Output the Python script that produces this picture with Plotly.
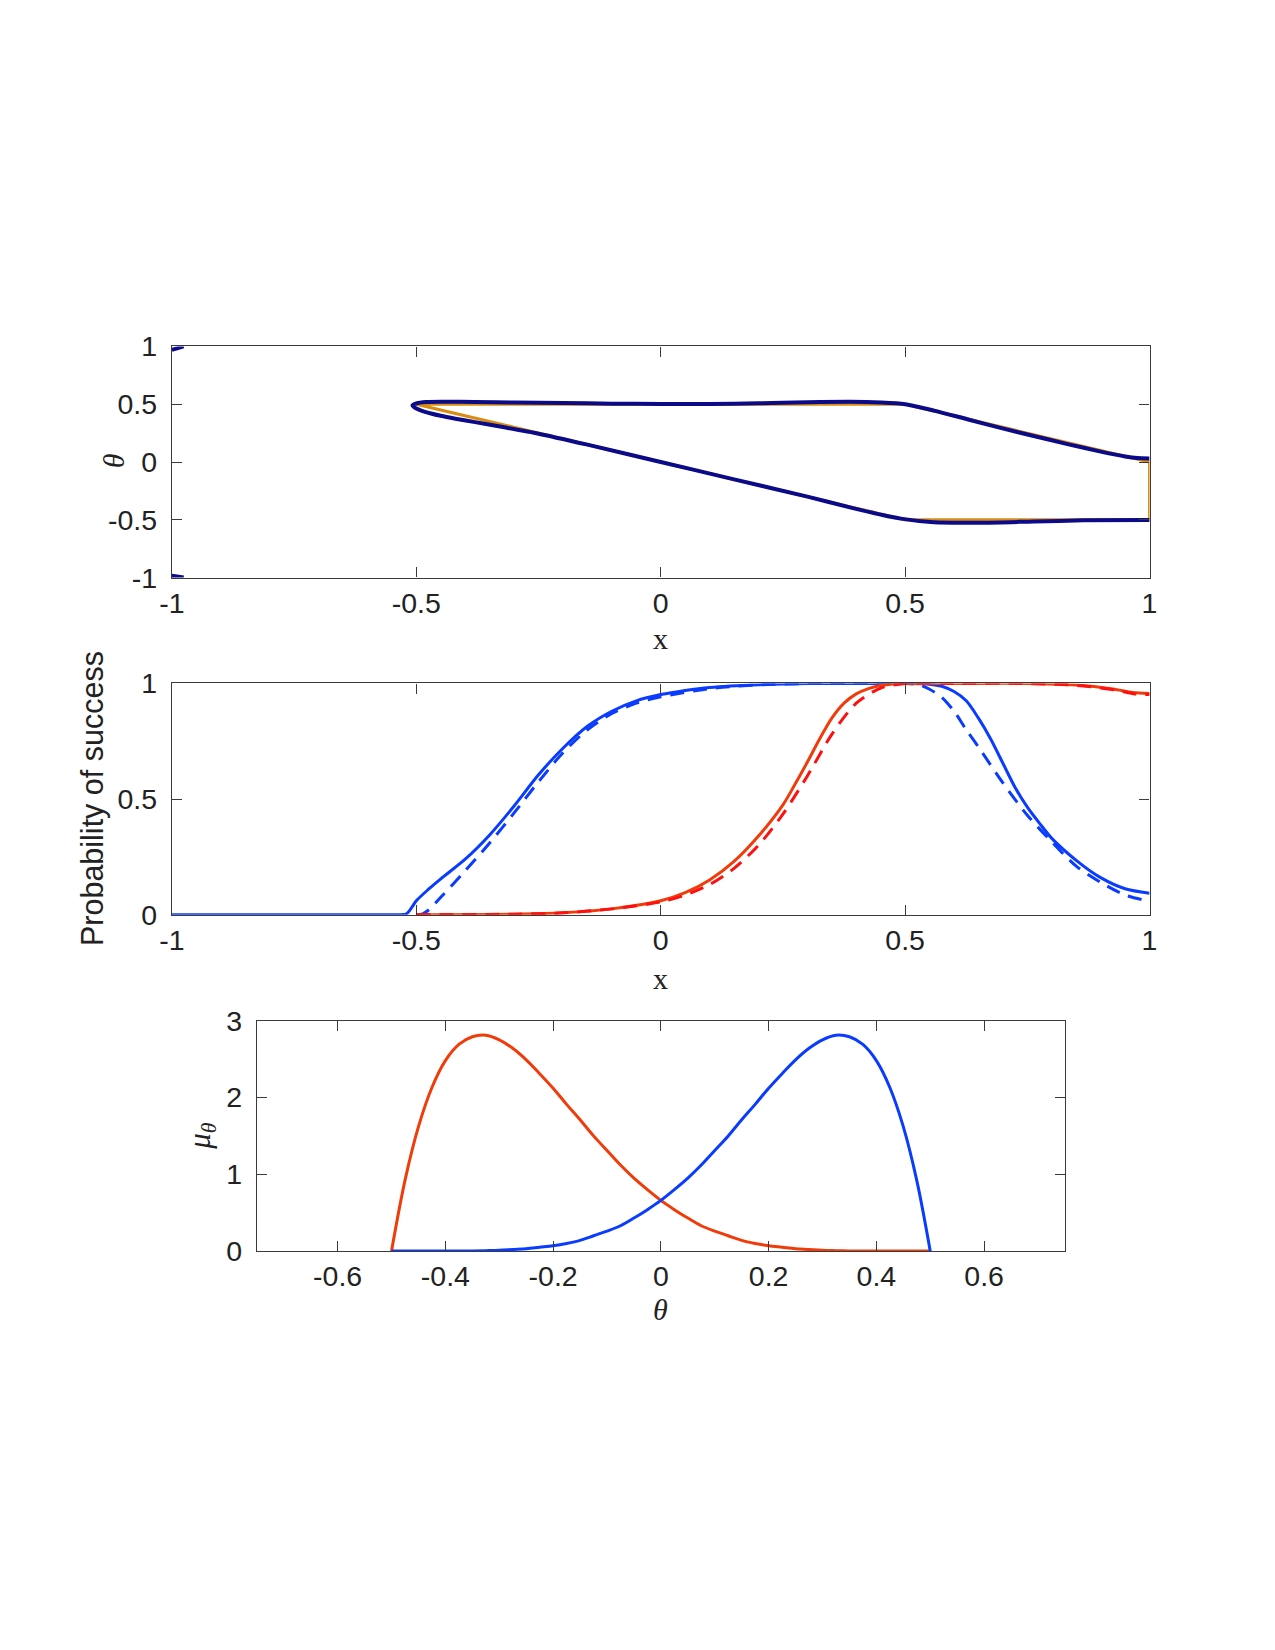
import plotly.graph_objects as go

# ---------------- data ----------------
# Top panel: reference (orange) polygon and computed curve (navy)
ref_x = [-0.5, 0.5, 1.0, 1.0, 0.5, -0.5]
ref_theta = [0.5, 0.5, 0.0, -0.5, -0.5, 0.5]

curve_x = [1.0, 0.975, 0.95, 0.90, 0.832, 0.763, 0.695, 0.627, 0.559, 0.5, 0.45, 0.389, 0.3, 0.2,
           0.1, 0.0, -0.1, -0.2, -0.3, -0.38, -0.44, -0.48, -0.5, -0.508, -0.504, -0.49, -0.47,
           -0.45, -0.42, -0.38, -0.32, -0.25, -0.15, 0.0, 0.15, 0.3, 0.389, 0.45, 0.491, 0.559,
           0.661, 0.763, 0.865, 1.0]
curve_theta = [0.03, 0.034, 0.048, 0.09, 0.155, 0.225, 0.295, 0.37, 0.445, 0.5, 0.515, 0.522,
               0.518, 0.508, 0.502, 0.502, 0.505, 0.51, 0.515, 0.52, 0.522, 0.52, 0.508, 0.49,
               0.472, 0.445, 0.42, 0.40, 0.375, 0.345, 0.30, 0.245, 0.15, 0.0, -0.15, -0.30,
               -0.395, -0.455, -0.49, -0.522, -0.525, -0.515, -0.505, -0.502]

corner_x = [-1.0, -0.976, None, -1.0, -0.976]
corner_theta = [0.97, 1.0, None, -0.985, -1.0]

# Middle panel: probability of success
blue_solid_x = [-1.0, -0.6, -0.53, -0.52, -0.51, -0.5, -0.475, -0.45, -0.4, -0.35, -0.3, -0.25,
                -0.2, -0.15, -0.1, -0.05, 0.0, 0.05, 0.1, 0.2, 0.3, 0.4, 0.5, 0.55, 0.575, 0.6,
                0.625, 0.65, 0.675, 0.7, 0.725, 0.75, 0.775, 0.8, 0.85, 0.9, 0.95, 1.0]
blue_solid_p = [0, 0, 0, 0.004, 0.029, 0.06, 0.11, 0.155, 0.24, 0.345, 0.47, 0.605, 0.72, 0.815,
                0.88, 0.925, 0.952, 0.97, 0.983, 0.995, 1.0, 1.0, 1.0, 0.997, 0.988, 0.965, 0.925,
                0.85, 0.76, 0.655, 0.55, 0.465, 0.395, 0.33, 0.235, 0.16, 0.112, 0.093]

blue_dash_x = [-0.5, -0.487, -0.475, -0.45, -0.4, -0.35, -0.3, -0.25, -0.2, -0.15, -0.1, -0.05,
               0.0, 0.1, 0.2, 0.3, 0.4, 0.5, 0.53, 0.55, 0.575, 0.6, 0.625, 0.65, 0.7, 0.75, 0.8,
               0.85, 0.9, 0.95, 1.0]
blue_dash_p = [0, 0.003, 0.02, 0.075, 0.19, 0.31, 0.44, 0.575, 0.70, 0.80, 0.87, 0.915, 0.942,
               0.978, 0.994, 1.0, 1.0, 1.0, 0.993, 0.975, 0.94, 0.88, 0.80, 0.725, 0.57, 0.43,
               0.315, 0.21, 0.14, 0.085, 0.058]

red_solid_x = [-0.5, -0.3, -0.2, -0.1, 0.0, 0.05, 0.1, 0.15, 0.2, 0.25, 0.275, 0.3, 0.325, 0.35,
               0.375, 0.4, 0.425, 0.45, 0.475, 0.5, 0.6, 0.75, 0.85, 0.925, 0.966, 1.0]
red_solid_p = [0, 0.002, 0.008, 0.025, 0.06, 0.095, 0.15, 0.23, 0.34, 0.475, 0.565, 0.66, 0.76,
               0.85, 0.915, 0.955, 0.978, 0.991, 0.998, 1.0, 1.0, 1.0, 0.993, 0.976, 0.961, 0.957]

red_dash_x = [-0.5, -0.3, -0.2, -0.1, 0.0, 0.05, 0.1, 0.15, 0.2, 0.25, 0.3, 0.35, 0.4, 0.45, 0.5,
              0.6, 0.75, 0.85, 0.93, 0.97, 1.0]
red_dash_p = [0, 0.002, 0.008, 0.025, 0.055, 0.085, 0.13, 0.2, 0.3, 0.435, 0.6, 0.78, 0.915, 0.98,
              1.0, 1.0, 1.0, 0.992, 0.972, 0.955, 0.952]

# Bottom panel: densities mu_theta
theta_grid = [-0.5, -0.475, -0.45, -0.425, -0.4, -0.375, -0.35, -0.325, -0.3, -0.275, -0.25,
              -0.225, -0.2, -0.175, -0.15, -0.125, -0.1, -0.075, -0.05, -0.025, 0.0, 0.025, 0.05,
              0.075, 0.1, 0.125, 0.15, 0.175, 0.2, 0.225, 0.25, 0.275, 0.3, 0.325, 0.35, 0.375,
              0.4, 0.425, 0.45, 0.475, 0.5]
mu_red = [0, 0.92, 1.62, 2.13, 2.48, 2.69, 2.79, 2.81, 2.75, 2.64, 2.49, 2.31, 2.12, 1.91, 1.71,
          1.50, 1.31, 1.12, 0.95, 0.80, 0.66, 0.54, 0.43, 0.33, 0.26, 0.20, 0.14, 0.10, 0.07,
          0.05, 0.03, 0.02, 0.01, 0.006, 0.003, 0.001, 0, 0, 0, 0, 0]
mu_blue = [0, 0, 0, 0, 0, 0.001, 0.003, 0.006, 0.01, 0.02, 0.03, 0.05, 0.07, 0.10, 0.14, 0.20,
           0.26, 0.33, 0.43, 0.54, 0.66, 0.80, 0.95, 1.12, 1.31, 1.50, 1.71, 1.91, 2.12, 2.31,
           2.49, 2.64, 2.75, 2.81, 2.79, 2.69, 2.48, 2.13, 1.62, 0.92, 0]

# tick labels
ticks_pm1 = [-1, -0.5, 0, 0.5, 1]
ticks_pm1_txt = ["-1", "-0.5", "0", "0.5", "1"]
ticks_p01 = [0, 0.5, 1]
ticks_p01_txt = ["0", "0.5", "1"]
ticks_mu = [0, 1, 2, 3]
ticks_mu_txt = ["0", "1", "2", "3"]
ticks_th = [-0.6, -0.4, -0.2, 0, 0.2, 0.4, 0.6]
ticks_th_txt = ["-0.6", "-0.4", "-0.2", "0", "0.2", "0.4", "0.6"]

# ---------------- styles ----------------
NAVY = "#0b0b8a"
ORANGE = "#d98c10"
BLUE = "#0a3cff"
RED_S = "#f03c0a"
RED_D = "#ff1010"
AX = "#3a3a3a"
OFF = 8                      # default page margin around the plot div
W, H = 1275 - 2 * OFF, 1650 - 2 * OFF
# the photographed page comes out slightly scaled; compensate
S, CX, CY = 0.984, 3.8, 5.5
TICKFONT = dict(family="Liberation Sans, Arial, Helvetica", size=28.5, color="#222")


def px_x(r):
    i = (r - CX) / S
    return (i - OFF) / W


def px_y(r):
    i = (r - CY) / S
    return 1 - (i - OFF) / H


fig = go.Figure()

# top
fig.add_trace(go.Scatter(x=ref_x, y=ref_theta, mode="lines", line=dict(color=ORANGE, width=3),
                         xaxis="x", yaxis="y", showlegend=False))
fig.add_trace(go.Scatter(x=curve_x, y=curve_theta, mode="lines",
                         line=dict(color=NAVY, width=4, shape="spline", smoothing=0.7),
                         xaxis="x", yaxis="y", showlegend=False))
fig.add_trace(go.Scatter(x=corner_x, y=corner_theta, mode="lines", line=dict(color=NAVY, width=4),
                         xaxis="x", yaxis="y", showlegend=False))

# middle
SPL = dict(shape="spline", smoothing=0.8)
fig.add_trace(go.Scatter(x=blue_solid_x, y=blue_solid_p, mode="lines",
                         line=dict(color=BLUE, width=3, **SPL),
                         xaxis="x2", yaxis="y2", showlegend=False))
fig.add_trace(go.Scatter(x=blue_dash_x, y=blue_dash_p, mode="lines",
                         line=dict(color=BLUE, width=3, dash="14px,9px", **SPL),
                         xaxis="x2", yaxis="y2", showlegend=False))
fig.add_trace(go.Scatter(x=red_solid_x, y=red_solid_p, mode="lines",
                         line=dict(color=RED_S, width=3, **SPL),
                         xaxis="x2", yaxis="y2", showlegend=False))
fig.add_trace(go.Scatter(x=red_dash_x, y=red_dash_p, mode="lines",
                         line=dict(color=RED_D, width=3, dash="14px,9px", **SPL),
                         xaxis="x2", yaxis="y2", showlegend=False))

# bottom
fig.add_trace(go.Scatter(x=theta_grid, y=mu_red, mode="lines",
                         line=dict(color=RED_S, width=3, shape="spline", smoothing=1),
                         xaxis="x3", yaxis="y3", showlegend=False))
fig.add_trace(go.Scatter(x=theta_grid, y=mu_blue, mode="lines",
                         line=dict(color=BLUE, width=3, shape="spline", smoothing=1),
                         xaxis="x3", yaxis="y3", showlegend=False))


def axis(domain, rng, tv, tt, anchor, standoff):
    return dict(domain=domain, range=rng, tickvals=tv, ticktext=tt, anchor=anchor,
                showline=True, mirror="ticks", linecolor=AX, linewidth=1.2,
                ticks="inside", ticklen=10, tickcolor=AX, tickwidth=1.2,
                showgrid=False, zeroline=False, tickfont=TICKFONT,
                ticklabelstandoff=standoff, fixedrange=True)


xd_main = [px_x(170.7), px_x(1149)]
xd_bot = [px_x(255.7), px_x(1064.3)]

fig.update_layout(
    width=W, height=H, margin=dict(l=0, r=0, t=0, b=0),
    paper_bgcolor="white", plot_bgcolor="white",
    xaxis=axis(xd_main, [-1, 1], ticks_pm1, ticks_pm1_txt, "y", 0),
    yaxis=axis([px_y(577), px_y(345)], [-1, 1], ticks_pm1, ticks_pm1_txt, "x", 8),
    xaxis2=axis(xd_main, [-1, 1], ticks_pm1, ticks_pm1_txt, "y2", 0),
    yaxis2=axis([px_y(915.3), px_y(683.3)], [0, 1], ticks_p01, ticks_p01_txt, "x2", 8),
    xaxis3=axis(xd_bot, [-0.75, 0.75], ticks_th, ticks_th_txt, "y3", 0),
    yaxis3=axis([px_y(1253), px_y(1021.7)], [0, 3], ticks_mu, ticks_mu_txt, "x3", 8),
)

SERIF = "Liberation Serif, Times New Roman, serif"
ann = [
    dict(text="x", x=px_x(660), y=px_y(638), font=dict(family=SERIF, size=30, color="#222")),
    dict(text="x", x=px_x(660), y=px_y(979), font=dict(family=SERIF, size=30, color="#222")),
    dict(text="<i>θ</i>", x=px_x(660), y=px_y(1312), font=dict(family=SERIF, size=30, color="#222")),
    dict(text="<i>θ</i>", x=px_x(112), y=px_y(460), textangle=-90,
         font=dict(family=SERIF, size=30, color="#222")),
    dict(text="Probability of success", x=px_x(91), y=px_y(799), textangle=-90,
         font=dict(family="Liberation Sans, Arial", size=30.5, color="#222")),
    dict(text="<i>μ</i><sub><i>θ</i></sub>", x=px_x(200), y=px_y(1137), textangle=-90,
         font=dict(family=SERIF, size=31, color="#222")),
]
for a in ann:
    a.update(xref="paper", yref="paper", showarrow=False, xanchor="center", yanchor="middle")
fig.update_layout(annotations=ann)

fig.write_html("out.html")
